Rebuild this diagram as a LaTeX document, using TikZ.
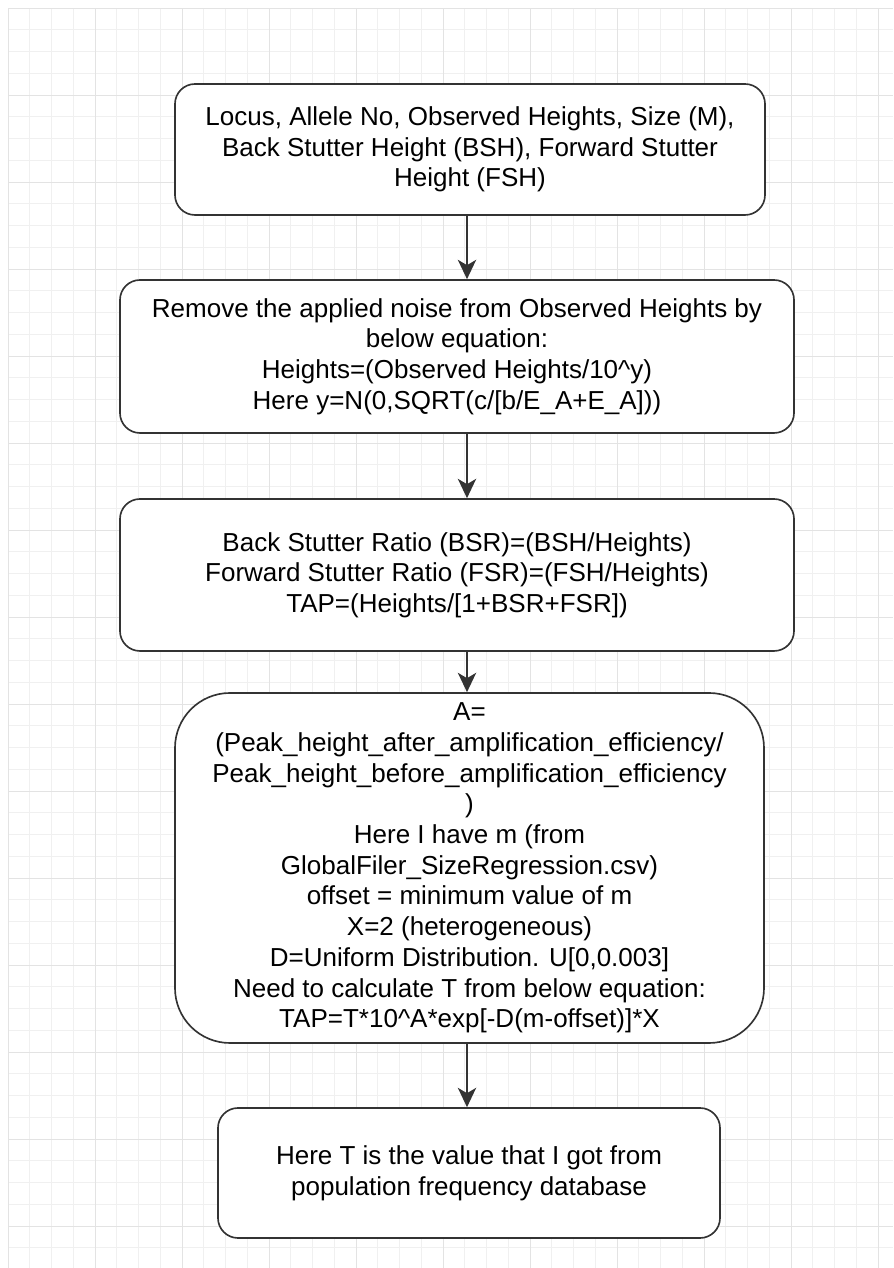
\documentclass[tikz,border=0pt]{standalone}
\usepackage{fontspec}
\setmainfont{Liberation Sans}
\usetikzlibrary{calc}
\usetikzlibrary{arrows.meta}

\newcommand{\boxfont}{\fontsize{22.2pt}{26.2pt}\selectfont}

\tikzset{
  flowbox/.style={draw=black!80, line width=1.4pt, fill=white, rounded corners=0.6cm,
    align=center, font=\boxfont, inner sep=0pt},
  flowarrow/.style={-{Stealth[length=0.58cm, width=0.55cm, inset=0.16cm]},
    draw=black!80, line width=1.4pt},
  gridminor/.style={draw=black!6, line width=0.6pt},
  gridmajor/.style={draw=black!11, line width=0.7pt}
}

\begin{document}
\begin{tikzpicture}[x=0.03cm, y=0.03cm]
\useasboundingbox (0,0) rectangle (893,1268);
\fill[white] (0,0) rectangle (893,1268);

\begin{scope}[shift={(8,1260)}]
\draw[gridminor, step=0.6525cm] (0,-1260) grid (885,0);
\draw[gridmajor, step=2.61cm] (0,-1260) grid (885,0);
\end{scope}

\coordinate (axis) at (467,0);

\node (input) at (470,1118.5) [flowbox, minimum width=17.7cm, minimum height=3.93cm]
  {Locus, Allele No, Observed Heights, Size (M),\\ Back Stutter Height (BSH), Forward Stutter\\ Height (FSH)};
\node (noise) at (457,911.5) [flowbox, minimum width=20.22cm, minimum height=4.59cm]
  {Remove the applied noise from Observed Heights by\\ below equation:\\ Heights=(Observed Heights/10\textasciicircum y)\\ Here y=N(0,SQRT(c/[b/E\_A+E\_A]))};
\node (ratio) at (457,693) [flowbox, minimum width=20.22cm, minimum height=4.56cm]
  {Back Stutter Ratio (BSR)=(BSH/Heights)\\ Forward Stutter Ratio (FSR)=(FSH/Heights)\\ TAP=(Heights/[1+BSR+FSR])};
\node (ampl) at (469.5,400) [flowbox, rounded corners=1.65cm, minimum width=17.67cm, minimum height=10.5cm]
  {A=\\ (Peak\_height\_after\_amplification\_efficiency/\\ Peak\_height\_before\_amplification\_efficiency\\ )\\
   Here I have m (from\\ GlobalFiler\_SizeRegression.csv)\\ offset = minimum value of m\\ X=2 (heterogeneous)\\
   D=Uniform Distribution. U[0,0.003]\\ Need to calculate T from below equation:\\ TAP=T*10\textasciicircum A*exp[-D(m-offset)]*X};
\node (result) at (469,95) [flowbox, minimum width=15.06cm, minimum height=3.9cm]
  {Here T is the value that I got from\\ population frequency database};

\draw[flowarrow] (input.south -| axis) -- (noise.north -| axis);
\draw[flowarrow] (noise.south -| axis) -- (ratio.north -| axis);
\draw[flowarrow] (ratio.south -| axis) -- (ampl.north -| axis);
\draw[flowarrow] (ampl.south -| axis) -- (result.north -| axis);

\end{tikzpicture}
\end{document}
